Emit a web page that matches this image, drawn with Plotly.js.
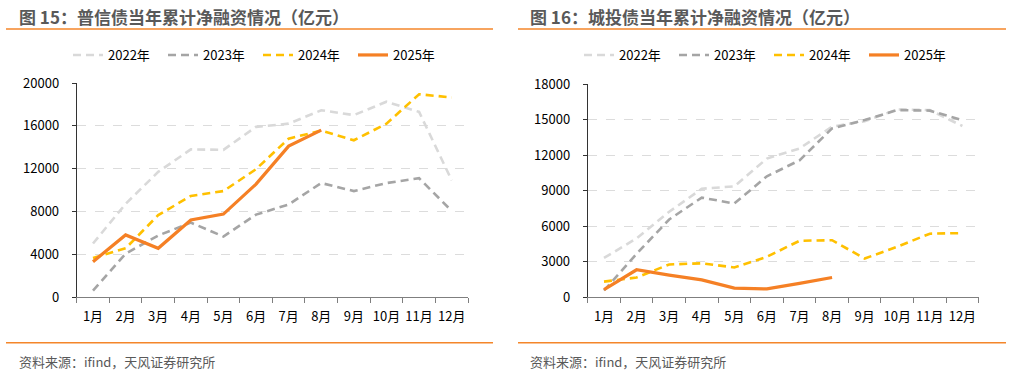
<!DOCTYPE html>
<html>
<head>
<meta charset="utf-8">
<script src="https://cdn.plot.ly/plotly-3.0.1.min.js"></script>
<style>
html,body{margin:0;padding:0;background:#fff;}
#chart{width:1011px;height:373px;}
</style>
</head>
<body>
<div id="chart"></div>
<script>
// ---- data ----
const months = ["1月","2月","3月","4月","5月","6月","7月","8月","9月","10月","11月","12月"];
const seriesNames = ["2022年","2023年","2024年","2025年"];

// 图15 普信债当年累计净融资（亿元）
const pxy2022 = [5000, 8700, 11700, 13800, 13750, 15900, 16200, 17450, 17000, 18250, 17300, 10900];
const pxy2023 = [600, 4050, 5750, 6950, 5650, 7700, 8650, 10650, 9900, 10650, 11100, 8050];
const pxy2024 = [3650, 4550, 7650, 9450, 9900, 11950, 14800, 15550, 14650, 16200, 18950, 18650];
const pxy2025 = [3300, 5800, 4550, 7200, 7750, 10550, 14100, 15600];

// 图16 城投债当年累计净融资（亿元）
const ctz2022 = [3300, 4950, 7200, 9150, 9350, 11700, 12550, 14400, 14850, 15850, 15800, 14450];
const ctz2023 = [550, 3650, 6550, 8400, 7900, 10200, 11550, 14250, 14950, 15800, 15750, 14950];
const ctz2024 = [1300, 1650, 2750, 2850, 2500, 3400, 4750, 4800, 3250, 4250, 5350, 5400];
const ctz2025 = [620, 2300, 1850, 1450, 750, 680, 1150, 1650];

const titles = ["图 15：普信债当年累计净融资情况（亿元）", "图 16：城投债当年累计净融资情况（亿元）"];
const sourceText = "资料来源：ifind，天风证券研究所";

// ---- styles ----
const styles = [
  {color:"#d9d9d9", dash:"8px,5px", width:2.6},
  {color:"#a5a5a5", dash:"8px,5px", width:2.6},
  {color:"#ffc000", dash:"8px,5px", width:2.6},
  {color:"#f58025", dash:"solid", width:3.2}
];
const FONT = "'Noto Sans CJK SC', 'Noto Sans', sans-serif";

function mk(y, i, xa, ya, lg){
  return {x: months.slice(0, y.length), y: y, type:"scatter", mode:"lines",
    name: seriesNames[i], xaxis: xa, yaxis: ya, legend: lg,
    line: {color: styles[i].color, dash: styles[i].dash, width: styles[i].width},
    hoverinfo:"skip"};
}
const traces = [
  mk(pxy2022,0,"x","y","legend"), mk(pxy2023,1,"x","y","legend"),
  mk(pxy2024,2,"x","y","legend"), mk(pxy2025,3,"x","y","legend"),
  mk(ctz2022,0,"x2","y2","legend2"), mk(ctz2023,1,"x2","y2","legend2"),
  mk(ctz2024,2,"x2","y2","legend2"), mk(ctz2025,3,"x2","y2","legend2")
];

const W = 1011, H = 373;
const px = v => v / W, py = v => 1 - v / H;

function xaxisCfg(d){
  return {domain:d, type:"category", categoryarray: months, range:[-0.5, 11.5],
    tickson:"boundaries", ticks:"outside", ticklen:5, tickcolor:"#7f7f7f", tickangle:0,
    showline:true, linecolor:"#7f7f7f", linewidth:1, showgrid:false, zeroline:false,
    automargin:false, ticklabelstandoff:7,
    tickfont:{family:FONT, size:13, color:"#000"}, fixedrange:true};
}
function yaxisCfg(d, max, dt, anchor){
  return {domain:d, range:[0,max], dtick:dt, tick0:0, anchor:anchor, tickformat:"d",
    ticks:"outside", ticklen:4, tickcolor:"#333", automargin:false,
    showline:true, linecolor:"#333", linewidth:1,
    showgrid:true, gridcolor:"#dcdcdc", griddash:"dash", gridwidth:1, zeroline:false,
    ticklabelstandoff:10,
    tickfont:{family:FONT, size:13, color:"#000"}, fixedrange:true};
}
function legendCfg(x){
  return {orientation:"h", x:x, y:py(55), xanchor:"left", yanchor:"middle",
    font:{family:FONT, size:13, color:"#000"}, entrywidth:50, entrywidthmode:"pixels",
    bgcolor:"rgba(0,0,0,0)", borderwidth:0, itemclick:false, itemdoubleclick:false};
}

const orange = "#f4862a";
const layout = {
  width: W, height: H, margin:{l:0,r:0,t:0,b:0, autoexpand:false}, showlegend:true,
  paper_bgcolor:"#fff", plot_bgcolor:"#fff",
  font:{family:FONT},
  xaxis: Object.assign(xaxisCfg([px(76.7), px(468)]), {anchor:"y"}),
  yaxis: yaxisCfg([py(297), py(83)], 20000, 4000, "x"),
  xaxis2: Object.assign(xaxisCfg([px(587.7), px(978.7)]), {anchor:"y2"}),
  yaxis2: yaxisCfg([py(297), py(84)], 18000, 3000, "x2"),
  legend: legendCfg(px(68)),
  legend2: legendCfg(px(579)),
  annotations: [
    {text:titles[0], xref:"paper", yref:"paper", x:px(17), y:py(16), xanchor:"left", yanchor:"middle",
     showarrow:false, font:{family:FONT, size:17, color:"#595959", weight:"bold"}},
    {text:titles[1], xref:"paper", yref:"paper", x:px(528), y:py(16), xanchor:"left", yanchor:"middle",
     showarrow:false, font:{family:FONT, size:17, color:"#595959", weight:"bold"}},
    {text:sourceText, xref:"paper", yref:"paper", x:px(17), y:py(361), xanchor:"left", yanchor:"middle",
     showarrow:false, font:{family:FONT, size:13, color:"#595959"}},
    {text:sourceText, xref:"paper", yref:"paper", x:px(528), y:py(361), xanchor:"left", yanchor:"middle",
     showarrow:false, font:{family:FONT, size:13, color:"#595959"}}
  ],
  shapes: [
    {type:"line", xref:"paper", yref:"paper", x0:px(6), x1:px(493), y0:py(29), y1:py(29), line:{color:orange, width:1.5}},
    {type:"line", xref:"paper", yref:"paper", x0:px(518), x1:px(1006), y0:py(29), y1:py(29), line:{color:orange, width:1.5}},
    {type:"line", xref:"paper", yref:"paper", x0:px(6), x1:px(493), y0:py(342.7), y1:py(342.7), line:{color:orange, width:1.5}},
    {type:"line", xref:"paper", yref:"paper", x0:px(518), x1:px(1006), y0:py(342.7), y1:py(342.7), line:{color:orange, width:1.5}}
  ]
};

Plotly.newPlot("chart", traces, layout, {staticPlot:true, displayModeBar:false});
</script>
</body>
</html>
